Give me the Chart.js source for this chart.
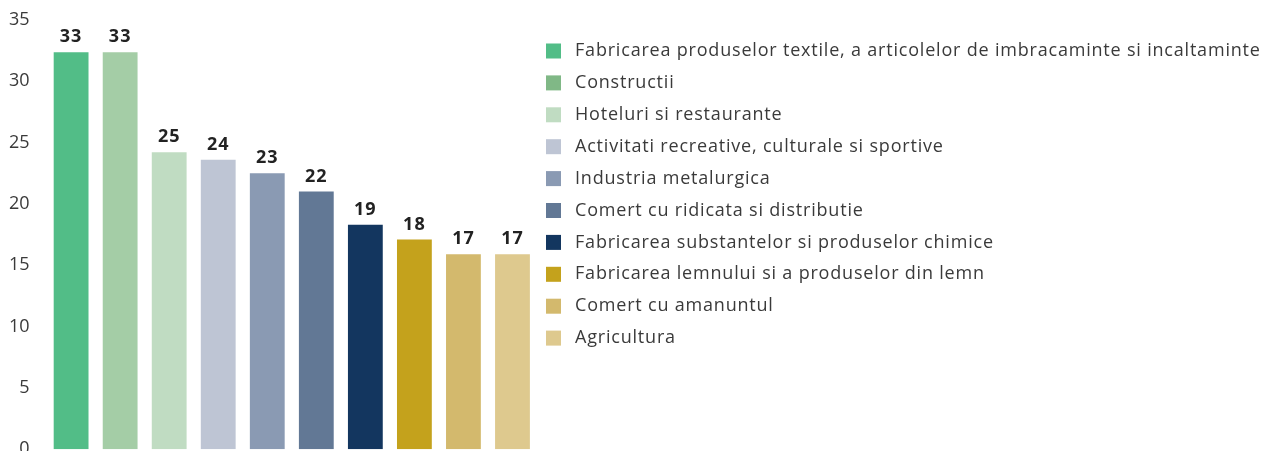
<!DOCTYPE html>
<html>
<head>
<meta charset="utf-8">
<script src="https://cdn.jsdelivr.net/npm/chart.js@4.4.1/dist/chart.umd.min.js"></script>
<style>
  html, body { margin: 0; padding: 0; background: #fff; overflow: hidden; }
  #wrap { position: relative; width: 1263px; height: 469px; }
</style>
</head>
<body>
<div id="wrap"><canvas id="chart"></canvas></div>
<script>
// Sectors, bar heights, printed labels and colours
const categories = [
  'Fabricarea produselor textile, a articolelor de imbracaminte si incaltaminte',
  'Constructii',
  'Hoteluri si restaurante',
  'Activitati recreative, culturale si sportive',
  'Industria metalurgica',
  'Comert cu ridicata si distributie',
  'Fabricarea substantelor si produselor chimice',
  'Fabricarea lemnului si a produselor din lemn',
  'Comert cu amanuntul',
  'Agricultura'
];
const values = [32.35, 32.35, 24.2, 23.6, 22.5, 21.0, 18.3, 17.1, 15.9, 15.9];
const valueLabels = ['33', '33', '25', '24', '23', '22', '19', '18', '17', '17'];
const barColors = ['#52bd87', '#a4cda6', '#c0dcc2', '#bec5d4', '#8a9ab3', '#627895', '#13365f', '#c4a21c', '#d3b96d', '#dec98e'];
const legendColors = ['#52bd87', '#80b886', '#c0dcc2', '#bec5d4', '#8a9ab3', '#627895', '#13365f', '#c4a21c', '#d3b96d', '#dec98e'];

const FONT = '"Open Sans", "DejaVu Sans", sans-serif';

// bold numbers above bars
const valueLabelPlugin = {
  id: 'valueLabelPlugin',
  afterDatasetsDraw(chart) {
    const { ctx } = chart;
    const meta = chart.getDatasetMeta(0);
    meta.data.forEach((bar, i) => {
      ctx.save();
      ctx.fillStyle = '#222';
      ctx.font = '700 18px ' + FONT;
      ctx.letterSpacing = '1px';
      ctx.textAlign = 'center';
      ctx.textBaseline = 'bottom';
      ctx.fillText(valueLabels[i], bar.x, bar.y - 6);
      ctx.restore();
    });
  }
};

// legend drawn by hand: the built-in one caps its width at half the canvas
const sideLegendPlugin = {
  id: 'sideLegend',
  afterDraw(chart) {
    const { ctx, chartArea } = chart;
    const x0 = chartArea.right + 9;
    ctx.save();
    ctx.font = '18px ' + FONT;
    ctx.letterSpacing = '0.8px';
    ctx.textBaseline = 'middle';
    ctx.textAlign = 'left';
    categories.forEach((c, i) => {
      const y = 51 + i * 31.9;
      ctx.fillStyle = legendColors[i];
      ctx.fillRect(x0, y - 7.5, 15, 15);
      ctx.fillStyle = '#3a3a3a';
      ctx.fillText(c, x0 + 29, y);
    });
    ctx.restore();
  }
};

new Chart(document.getElementById('chart'), {
  type: 'bar',
  data: {
    labels: categories,
    datasets: [{
      data: values,
      backgroundColor: barColors,
      categoryPercentage: 1,
      barPercentage: 0.71
    }]
  },
  options: {
    responsive: true,
    maintainAspectRatio: false,
    animation: false,
    layout: { padding: { top: 8, left: 0, right: 726 } },
    plugins: {
      tooltip: { enabled: false },
      legend: { display: false }
    },
    scales: {
      x: { display: false },
      y: {
        min: 0,
        max: 35,
        ticks: { stepSize: 5, color: '#3a3a3a', font: { family: FONT, size: 18 }, padding: 9 },
        grid: { display: false },
        border: { display: false }
      }
    }
  },
  plugins: [valueLabelPlugin, sideLegendPlugin]
});
</script>
</body>
</html>
